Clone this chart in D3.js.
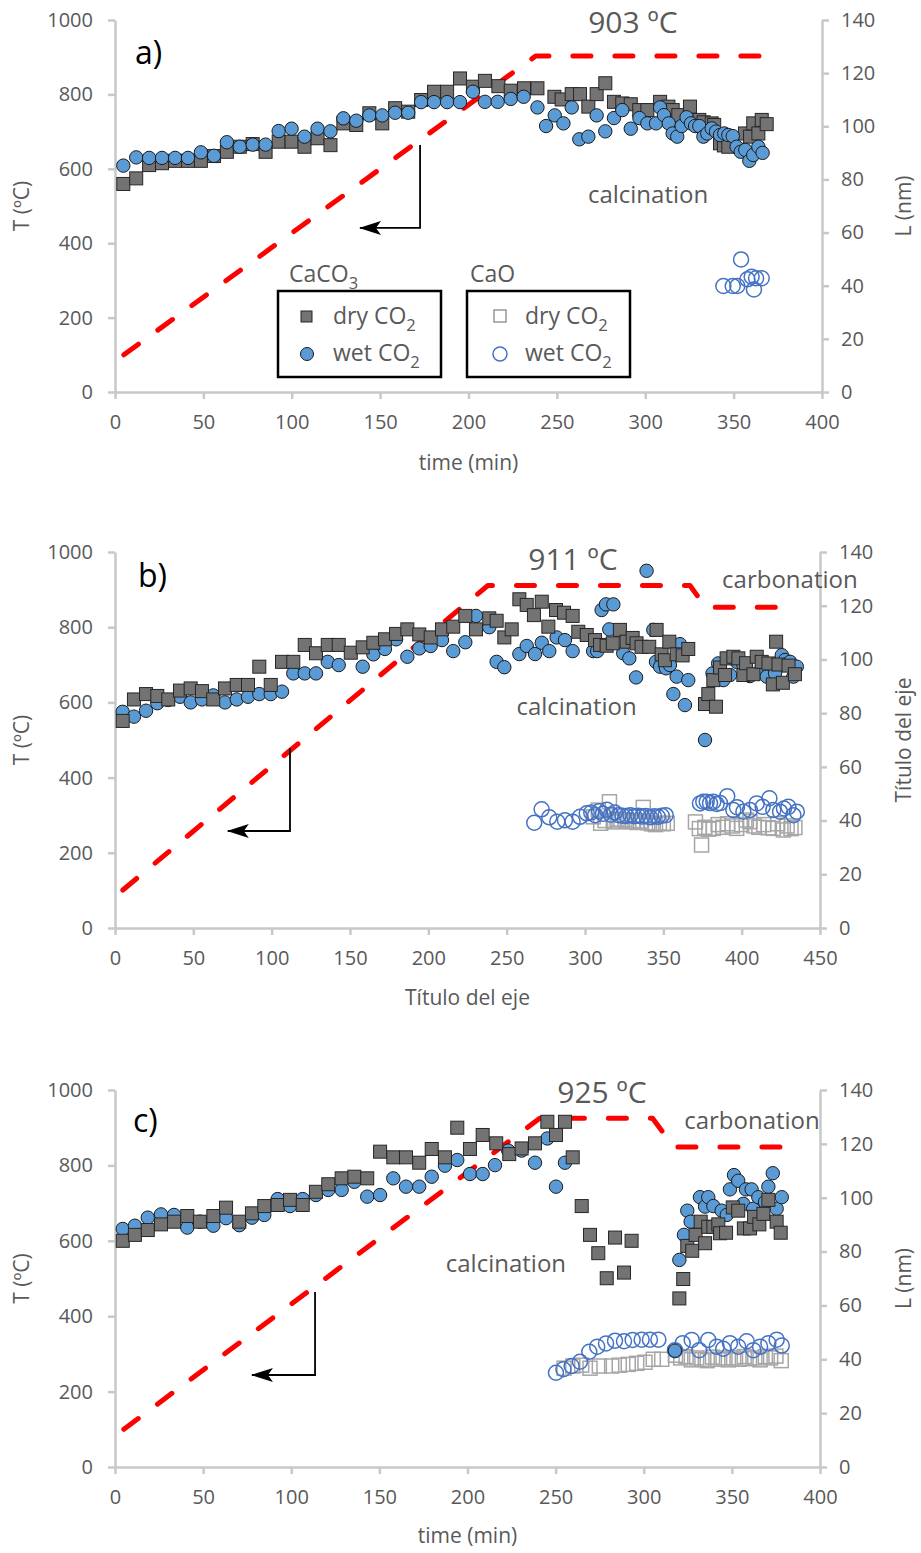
<!DOCTYPE html>
<meta charset="utf-8">
<script src="https://d3js.org/d3.v7.min.js"></script>
<style>
body { margin: 0; background: #fff; }
text { font-family: "Open Sans", sans-serif; fill: #595959; }
.axis path, .axis line { stroke: #c8c8c8; stroke-width: 2.5; }
.axis text { fill: #595959; font-size: 20px; font-family: "Open Sans", sans-serif; }
</style>
<div id="main"></div>
<script>
// ---- data: [time (min), L (nm)] for the points, [time, T (ºC)] for the temperature ----
const aDry = [[4.7,78.3],[12,80.4],[19.3,85.4],[26.6,86.1],[34,87],[41.3,87],[48.6,87],[56,88.8],[63.3,90.4],[70.6,92.3],[77.9,93.3],[85.2,90.4],[92.6,94.2],[99.9,94.2],[107.2,92.3],[114.6,95.5],[121.9,92.9],[129.2,101.1],[136.5,100.5],[143.9,104.9],[151.2,101.1],[158.5,106.8],[165.9,105.5],[173.2,109.9],[180.5,113],[187.9,113],[195.2,118],[202.5,114.9],[209.3,117.1],[216.9,115.1],[223.9,113.4],[231.4,114.3],[239,114.3],[248.6,111.1],[252.7,110.1],[258.4,112.1],[263.1,112.1],[267.8,107.4],[272.5,112.1],[277.4,116.2],[282.3,109.2],[287,108.6],[291.8,108.3],[296.6,106.1],[301.2,106.1],[308.4,109.2],[313.1,107.4],[315.5,106.1],[318.7,104.2],[325.3,107.4],[330.6,102.4],[333,101.5],[337.6,101.1],[339,100.5],[342.3,93.6],[344.5,92.8],[347,92.3],[356.4,97.3],[359.3,96.1],[361.1,101.1],[364,97.3],[365.9,102.4],[368.7,100.8]];
const aWet = [[4.7,85.2],[12,88.3],[19.3,88.1],[26.6,88.1],[34,88.1],[41.3,88.1],[48.6,90.2],[56,88.9],[63.3,94],[70.6,92.3],[77.9,93.1],[85.2,93.1],[92.6,98.2],[99.9,99.1],[107.2,96.1],[114.6,99.1],[121.9,98.1],[129.2,103],[136.5,102.1],[143.9,104.1],[151.2,104.1],[158.5,105.1],[165.9,105.1],[173.2,109.1],[180.5,109.1],[187.9,109.1],[195.2,109.1],[202.5,113],[209.3,109.2],[216.5,109.2],[223.9,110.3],[231.2,111.1],[239,107.1],[243.9,100.1],[248.8,104.1],[253.7,101.1],[258.4,107.1],[262.7,95.1],[267.8,96.1],[272.5,104.1],[277.4,98.1],[282.3,103.1],[287,106.1],[291.8,99.1],[296.7,103.1],[301.2,101.1],[306.1,101.1],[308.4,107.1],[310.6,104.2],[313.3,101.1],[315.5,97.3],[318.1,96.1],[320.6,100.1],[323.4,103.4],[325.9,101.1],[328.2,100.1],[330.6,100.1],[332.9,96.1],[335.1,97.3],[337.6,99.2],[340,98],[342.3,96.7],[344.7,97.3],[347,96.7],[349.5,96.3],[351.7,92.3],[354,90.4],[356.6,91.1],[358.9,87],[361.1,89.2],[364,92.3],[366.4,90]];
const aCaODry = [];
const aCaOWet = [[344.2,39.9],[349.5,39.9],[352.1,39.9],[354.2,49.9],[357.8,42.4],[360.2,43.4],[361.5,38.6],[362.7,42.8],[365.9,42.8]];
const aTemp = [[5,100],[238,903],[366,903]];
const aArrow = [[172.6,664],[172.6,441],[138.6,441]];

const bDry = [[4.9,77.1],[12.1,85.1],[19.8,87.1],[27,86.4],[34,85.1],[41.5,88.4],[48.3,89.2],[55.5,88.2],[62.7,85.1],[70.2,89.2],[77.7,90.5],[84.9,90.5],[92.1,97.3],[99.4,90.5],[106.6,99.1],[113.8,99.1],[121.1,105.4],[128.3,102.3],[135.8,105.4],[142.8,105.4],[150.5,102.5],[158.1,104.5],[164.9,106.2],[172.3,107.5],[179.4,109.5],[186.6,111.2],[194.2,109.3],[201.5,108.2],[208.7,111.2],[215.9,112.2],[223.6,116.2],[230.4,111.2],[238.9,115.3],[243.6,114.4],[248.5,108.2],[253.2,111.2],[258.1,122.4],[262.8,120.3],[267.4,116.5],[272.4,121.5],[276.6,112.2],[281.5,118.4],[286.6,117.4],[292.1,116.2],[295.7,110.3],[301.1,109.1],[306.4,107.2],[309.6,105.4],[313.8,105.1],[317.7,106],[322.3,111],[326.6,106.6],[330.4,108],[332.9,106],[336.1,104.7],[341,104.7],[345.7,111],[348.9,101.9],[351,99.7],[353.8,106.6],[358.5,101.9],[362.3,101.5],[365.9,103.9],[376.6,83.4],[378.7,87.1],[383.6,82.4],[381.9,92.3],[386.2,97],[389.4,94.2],[390.4,100.4],[394.7,101],[397.9,100.4],[401.1,94.2],[402.8,98.6],[407.5,94.5],[409.6,101],[412.8,99.1],[417.1,98.5],[419.9,90.7],[422,106.6],[423.5,98.1],[426.3,91.3],[429.9,97.7],[434,94.5]];
const bWet = [[4.9,80.5],[12.1,78.7],[19.8,80.9],[27,83.7],[34,84.9],[41.5,86.1],[48.3,84],[55.5,85.1],[62.7,86.6],[70.2,84],[77.7,85.1],[84.9,86.1],[92.1,87.1],[99.4,87.1],[106.6,88],[113.8,94.8],[121.1,94.8],[128.3,94.8],[135.8,99.1],[142.8,97.9],[158.1,97.3],[164.9,101.9],[172.3,103.9],[179.4,107.5],[186.6,101],[194.2,104.1],[201.5,105],[208.7,107.2],[215.9,103.1],[223.6,106.4],[230.4,116.2],[238.9,112],[243.6,99.1],[248.5,97.1],[258.1,102],[262.8,105],[268.1,102],[272.4,106.2],[277.2,103.1],[281.9,108.2],[287.2,107.2],[292.1,103.1],[305.2,103.1],[307.8,103.1],[310.6,118.4],[313.4,120.5],[315.5,111.2],[318.1,120.5],[324.4,102.3],[328.3,100.4],[332.6,93.3],[339.3,133],[343.6,111],[345.3,99.1],[347.9,97.3],[351.7,96.7],[354.2,97.9],[356.4,87.1],[358.5,93.6],[360.6,105.7],[363.8,83],[365.9,92.3],[376.6,70],[381.4,94.8],[385,98.5],[388.3,92.3],[392.6,94.2],[396.8,99.1],[401.1,98],[405.3,93.8],[412.8,97],[416,93.6],[421.3,94.8],[425.6,101.6],[427.7,99.8],[430.9,99.1],[433,93.6],[435.2,97.3]];
const bCaODry = [[305.3,41.4],[308.5,43.9],[310,39],[312.8,40],[315.6,47],[318,39.5],[320.5,40.5],[323,39.8],[325.5,40.2],[328,39.5],[330.5,40],[333,39.3],[335.5,39.8],[337.2,44.9],[340,39.2],[342.5,38.8],[345,38.5],[347.5,39],[350,38.8],[352.5,39],[370.5,39.5],[373,37],[374.4,30.9],[376.5,37.5],[379,36.8],[381.9,37.1],[385,38.5],[388,37.5],[391,38.8],[394,38],[396.8,37.1],[400,38.5],[403,40.2],[405.3,39.6],[408,38],[411,37.5],[414,38.5],[417,37.3],[420.2,37.1],[423,38.8],[426.6,36.5],[429,38],[431.5,37],[434,37.4]];
const bCaOWet = [[267.6,39.2],[272.3,44.2],[277.2,41.2],[282.3,39.6],[287.2,40.1],[292.1,39.6],[296.8,41.4],[301.1,42.7],[304,43],[306.5,42],[309,43.5],[311.5,42.5],[314,44],[316.5,42.2],[319,43],[321.5,42],[324,41.8],[326.5,41.7],[329,42],[331.5,41.6],[334,41.8],[336.5,41.5],[339,41.7],[341.5,41.2],[344,41.6],[346.5,41.4],[349,41.8],[351.5,42],[373.4,46.4],[375.5,47],[377.7,47],[379.8,46.5],[381.9,47],[384,46.2],[386.2,46.5],[390.8,49.1],[394.7,43.9],[397,45],[401.1,43.3],[405.3,43.9],[409.6,46.4],[413.4,45.1],[417.7,48.3],[420.2,43.9],[424.5,43.3],[427,44.5],[429.8,45.1],[433,42],[435.2,43.3]];
const bTemp = [[5,101],[238,911],[367,911],[377,853],[435,853]];
const bArrow = [[111.7,479],[111.7,258],[72,258]];

const cDry = [[4.4,84],[11.3,86.2],[18.6,88],[26.1,90.1],[33.5,91.1],[41,93.2],[48.2,91.1],[55.8,93.2],[63,96.3],[70.5,91.1],[77.7,94.2],[84.7,96.9],[92.3,97.3],[99.3,99.2],[106.5,97.3],[114,102.2],[121,105],[128.6,107.2],[135.8,107.8],[143.1,107.2],[150.4,117.1],[157.9,115],[165.1,115],[172.6,113],[179.7,118.1],[187.2,115],[194.2,126],[201.4,118.1],[208.6,123.3],[216.3,120.2],[223.7,116.2],[230.7,118.3],[238.3,120.2],[245.3,128.2],[250.2,123.3],[255.3,128.2],[259.7,115],[264.8,96.9],[269.5,86.2],[274.2,79.4],[279,70.1],[283.7,85.2],[288.8,72.2],[293.1,84],[320.2,62.6],[322.4,69.8],[324.7,82.1],[327.5,80.3],[329.4,86.2],[332.3,91.1],[334.8,83.1],[336.6,89.2],[339.5,89.2],[342.3,90.1],[343.3,86.8],[346.7,87],[350.5,96.4],[353.6,95.2],[356.8,88.6],[360.3,88.6],[362.6,92.9],[365.6,90.1],[367.9,94],[370.7,99.2],[375.4,91.1],[377.7,87]];
const cWet = [[4.4,88.4],[11.3,89.6],[18.6,92.6],[26.1,93.8],[33.5,93.6],[41,88.9],[48.2,91.1],[55.8,89.6],[63,92.4],[70.5,89.8],[77.7,92.6],[84.7,93.6],[92.3,99.5],[99.3,96.9],[106.5,99.5],[114,101],[121,102.9],[128.6,102.9],[135.8,105.9],[143.1,100.4],[150.4,101],[157.9,107.2],[165.1,104.1],[172.6,104.1],[179.7,107.8],[187.2,111.9],[194.2,114],[201.4,108.8],[208.6,108.8],[215.6,112.1],[223.1,117.5],[230.7,117.5],[238.3,113],[245.3,122],[250.2,104.1],[255.3,113],[317.7,43.2],[320.2,76.9],[322.8,86.2],[324.7,95.2],[326.6,91.1],[331.9,100.2],[334.8,96.7],[336.6,100.2],[339.5,96.9],[344.2,95.2],[347.1,93.6],[348.9,103.1],[351.2,108.4],[353.6,106.3],[356.5,97.7],[358,103.1],[361.2,103.1],[362.1,95.9],[365,100.2],[368.8,98.4],[370.7,104.1],[373.2,109.1],[375.4,95.9],[378.3,100.2]];
const cCaODry = [[254.8,36.7],[259.7,37.5],[264.8,37.8],[269.5,36.7],[274.8,37.5],[281.8,37.5],[286.1,37.8],[291.2,38.1],[296,38.5],[300.7,38.9],[305.4,40],[310.2,40],[318,41.5],[321,40.5],[324,41],[327,39.8],[330,40.5],[333,40],[336,39.5],[339,40.8],[342,40],[345,40.5],[348,39.8],[351,40.5],[354,40],[357,41],[360,40.2],[363,40.5],[366,39.8],[369,41],[372,40.5],[375,41.2],[378,39.5]];
const cCaOWet = [[250.2,35],[254.4,36.3],[259.1,37.5],[263.8,39.1],[269.1,42.8],[273.6,44.7],[278.6,45.9],[283.7,46.9],[288.8,46.7],[293.7,47.2],[298.8,47.3],[303.5,47.3],[308.3,47.3],[317.7,43.4],[322.1,46],[327.2,47.2],[331.5,43.4],[336.6,47.2],[341.4,44.7],[345.1,43.9],[348.9,46],[353.6,44.7],[358.4,46.7],[362.2,43.4],[366,44.7],[370.7,46],[375.4,47.3],[378.3,45.1]];
const cTemp = [[5,100],[241,925],[305,925],[317,849],[380,849]];
const cArrow = [[113.5,464],[113.5,244],[77.7,244]];

const tTicks = [0, 200, 400, 600, 800, 1000];
const lTicks = [0, 20, 40, 60, 80, 100, 120, 140];

// ---- panel layout ----
const panels = [
  {top: 20, bottom: 392, left: 115, right: 822, xMax: 400,
   dry: aDry, wet: aWet, caoDry: aCaODry, caoWet: aCaOWet, temp: aTemp, arrow: aArrow, wetFirst: false,
   letter: "a)", letterAt: [11.3, 882], tLabel: "903 ºC", tLabelAt: [293, 965],
   calcAt: [301.6, 508], carbAt: null,
   xTitle: "time (min)", xTitleY: 470, rTitle: "L (nm)", legend: true},
  {top: 552, bottom: 928, left: 115, right: 820, xMax: 450,
   dry: bDry, wet: bWet, caoDry: bCaODry, caoWet: bCaOWet, temp: bTemp, arrow: bArrow, wetFirst: true,
   letter: "b)", letterAt: [14.7, 907], tLabel: "911 ºC", tLabelAt: [292.3, 952],
   calcAt: [294.6, 566], carbAt: [430.8, 903],
   xTitle: "Título del eje", xTitleY: 1005, rTitle: "Título del eje", legend: false},
  {top: 1090, bottom: 1467, left: 115, right: 820, xMax: 400,
   dry: cDry, wet: cWet, caoDry: cCaODry, caoWet: cCaOWet, temp: cTemp, arrow: cArrow, wetFirst: true,
   letter: "c)", letterAt: [10.2, 889], tLabel: "925 ºC", tLabelAt: [276.3, 965],
   calcAt: [221.8, 517], carbAt: [361.4, 896.6],
   xTitle: "time (min)", xTitleY: 1543, rTitle: "L (nm)", legend: false}
];

const svg = d3.select("#main").append("svg")
    .attr("width", 921)
    .attr("height", 1553);

svg.append("defs").append("marker")
    .attr("id", "arrowhead")
    .attr("viewBox", "0 0 22 14")
    .attr("refX", 21).attr("refY", 7)
    .attr("markerWidth", 22).attr("markerHeight", 14)
    .attr("markerUnits", "userSpaceOnUse")
    .attr("orient", "auto")
  .append("path")
    .attr("d", "M0,0 L22,7 L0,14 L5,7 Z")
    .attr("fill", "#000");

function drawPanel(p) {
  const x = d3.scaleLinear().domain([0, p.xMax]).range([p.left, p.right]);
  const yT = d3.scaleLinear().domain([0, 1000]).range([p.bottom, p.top]);
  const yL = d3.scaleLinear().domain([0, 140]).range([p.bottom, p.top]);
  const g = svg.append("g");

  // axes
  g.append("g").attr("class", "axis")
      .attr("transform", "translate(" + p.left + ",0)")
      .call(d3.axisLeft(yT).tickValues(tTicks).tickFormat(d3.format("d"))
        .tickSize(7).tickSizeOuter(0).tickPadding(15));
  g.append("g").attr("class", "axis")
      .attr("transform", "translate(" + p.right + ",0)")
      .call(d3.axisRight(yL).tickValues(lTicks).tickFormat(d3.format("d"))
        .tickSize(7).tickSizeOuter(0).tickPadding(12));
  g.append("g").attr("class", "axis")
      .attr("transform", "translate(0," + p.bottom + ")")
      .call(d3.axisBottom(x).ticks(p.xMax / 50).tickFormat(d3.format("d"))
        .tickSize(7).tickSizeOuter(0).tickPadding(16));

  // axis titles
  const midY = (p.top + p.bottom) / 2;
  g.append("text")
      .attr("transform", "translate(29," + midY + ") rotate(-90)")
      .attr("text-anchor", "middle")
      .attr("font-size", 21)
      .text("T (ºC)");
  g.append("text")
      .attr("transform", "translate(911," + midY + ") rotate(-90)")
      .attr("text-anchor", "middle")
      .attr("font-size", 21)
      .text(p.rTitle);
  g.append("text")
      .attr("x", (p.left + p.right) / 2)
      .attr("y", p.xTitleY)
      .attr("text-anchor", "middle")
      .attr("font-size", 21)
      .text(p.xTitle);

  // temperature programme
  const line = d3.line().x(d => x(d[0])).y(d => yT(d[1]));
  g.append("path")
      .datum(p.temp)
      .attr("d", line)
      .attr("fill", "none")
      .attr("stroke", "#ff0000")
      .attr("stroke-width", 5)
      .attr("stroke-linecap", "round")
      .attr("stroke-linejoin", "round")
      .attr("stroke-dasharray", "18,24");

  // arrow pointing to T axis
  g.append("path")
      .datum(p.arrow)
      .attr("d", line)
      .attr("fill", "none")
      .attr("stroke", "#000")
      .attr("stroke-width", 1.8)
      .attr("marker-end", "url(#arrowhead)");

  // CaO (open markers)
  g.append("g").selectAll("rect")
      .data(p.caoDry)
      .join("rect")
      .attr("x", d => x(d[0]) - 7)
      .attr("y", d => yL(d[1]) - 7)
      .attr("width", 14).attr("height", 14)
      .attr("fill", "none")
      .attr("stroke", "#a6a6a6")
      .attr("stroke-width", 1.5);
  g.append("g").selectAll("circle")
      .data(p.caoWet)
      .join("circle")
      .attr("cx", d => x(d[0]))
      .attr("cy", d => yL(d[1]))
      .attr("r", 7.5)
      .attr("fill", "none")
      .attr("stroke", "#4472c4")
      .attr("stroke-width", 1.5);

  // CaCO3 (filled markers)
  function drawDry() {
    g.append("g").selectAll("rect")
        .data(p.dry)
        .join("rect")
        .attr("x", d => x(d[0]) - 6.5)
        .attr("y", d => yL(d[1]) - 6.5)
        .attr("width", 13).attr("height", 13)
        .attr("fill", "#737373")
        .attr("stroke", "#262626")
        .attr("stroke-width", 1);
  }
  function drawWet() {
    g.append("g").selectAll("circle")
        .data(p.wet)
        .join("circle")
        .attr("cx", d => x(d[0]))
        .attr("cy", d => yL(d[1]))
        .attr("r", 6.7)
        .attr("fill", "#5b9bd5")
        .attr("stroke", "#1a1a1a")
        .attr("stroke-width", 1);
  }
  if (p.wetFirst) { drawWet(); drawDry(); } else { drawDry(); drawWet(); }

  // annotations
  g.append("text")
      .attr("x", x(p.letterAt[0])).attr("y", yT(p.letterAt[1]))
      .attr("font-size", 32).style("fill", "#000")
      .text(p.letter);
  g.append("text")
      .attr("x", x(p.tLabelAt[0])).attr("y", yT(p.tLabelAt[1]))
      .attr("text-anchor", "middle")
      .attr("font-size", 30)
      .text(p.tLabel);
  g.append("text")
      .attr("x", x(p.calcAt[0])).attr("y", yT(p.calcAt[1]))
      .attr("text-anchor", "middle")
      .attr("font-size", 24)
      .text("calcination");
  if (p.carbAt) {
    g.append("text")
        .attr("x", x(p.carbAt[0])).attr("y", yT(p.carbAt[1]))
        .attr("text-anchor", "middle")
        .attr("font-size", 24)
        .text("carbonation");
  }

  if (p.legend) drawLegend(g);
}

function subText(sel, main, sub, size) {
  sel.attr("font-size", size).text(main)
    .append("tspan")
      .attr("font-size", size * 0.72)
      .attr("dy", size * 0.3)
      .text(sub);
}

function drawLegend(g) {
  subText(g.append("text").attr("x", 289).attr("y", 282), "CaCO", "3", 23);
  g.append("text").attr("x", 470).attr("y", 282).attr("font-size", 23).text("CaO");

  g.append("rect").attr("x", 278).attr("y", 291).attr("width", 163).attr("height", 86)
      .attr("fill", "#fff").attr("stroke", "#000").attr("stroke-width", 2.5);
  g.append("rect").attr("x", 467).attr("y", 291).attr("width", 163).attr("height", 86)
      .attr("fill", "#fff").attr("stroke", "#000").attr("stroke-width", 2.5);

  g.append("rect").attr("x", 301).attr("y", 311).attr("width", 11).attr("height", 11)
      .attr("fill", "#737373").attr("stroke", "#262626");
  g.append("circle").attr("cx", 307).attr("cy", 354).attr("r", 6.5)
      .attr("fill", "#5b9bd5").attr("stroke", "#1a1a1a");
  subText(g.append("text").attr("x", 333).attr("y", 324), "dry CO", "2", 23);
  subText(g.append("text").attr("x", 333).attr("y", 361), "wet CO", "2", 23);

  g.append("rect").attr("x", 494).attr("y", 310).attr("width", 12).attr("height", 12)
      .attr("fill", "none").attr("stroke", "#7f7f7f").attr("stroke-width", 1.2);
  g.append("circle").attr("cx", 500).attr("cy", 354).attr("r", 7)
      .attr("fill", "none").attr("stroke", "#4472c4").attr("stroke-width", 1.5);
  subText(g.append("text").attr("x", 525).attr("y", 324), "dry CO", "2", 23);
  subText(g.append("text").attr("x", 525).attr("y", 361), "wet CO", "2", 23);
}

panels.forEach(drawPanel);
</script>
